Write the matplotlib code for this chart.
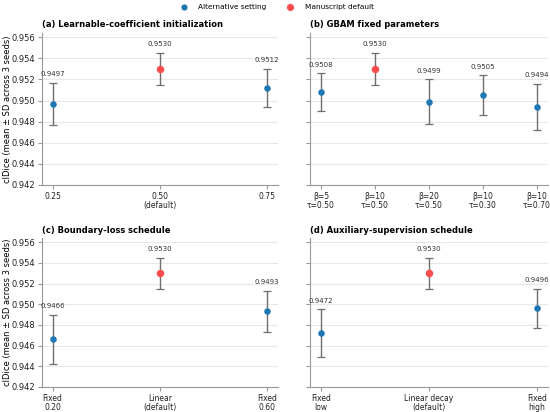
import numpy as np
import matplotlib
matplotlib.use("Agg")
import matplotlib.pyplot as plt
from matplotlib.lines import Line2D

# Panel data: labels, mean clDice, SD across 3 seeds, which one is the manuscript default
a_labels = ["0.25", "0.50\n(default)", "0.75"]
a_mean = [0.9497, 0.9530, 0.9512]
a_sd = [0.0020, 0.0015, 0.0018]
a_default = [False, True, False]

b_labels = ["β=5\nτ=0.50", "β=10\nτ=0.50", "β=20\nτ=0.50", "β=10\nτ=0.30", "β=10\nτ=0.70"]
b_mean = [0.9508, 0.9530, 0.9499, 0.9505, 0.9494]
b_sd = [0.0018, 0.0015, 0.0021, 0.0019, 0.0022]
b_default = [False, True, False, False, False]

c_labels = ["Fixed\n0.20", "Linear\n(default)", "Fixed\n0.60"]
c_mean = [0.9466, 0.9530, 0.9493]
c_sd = [0.0024, 0.0015, 0.0020]
c_default = [False, True, False]

d_labels = ["Fixed\nlow", "Linear decay\n(default)", "Fixed\nhigh"]
d_mean = [0.9472, 0.9530, 0.9496]
d_sd = [0.0023, 0.0015, 0.0019]
d_default = [False, True, False]

titles = ["(a) Learnable-coefficient initialization", "(b) GBAM fixed parameters",
          "(c) Boundary-loss schedule", "(d) Auxiliary-supervision schedule"]

BLUE = "#1f77b4"
RED = "#ff4d4d"
ylabel = "clDice (mean ± SD across 3 seeds)"
yticks = np.arange(0.942, 0.9561, 0.002)

fig = plt.figure(figsize=(5.5, 4.12), dpi=100)
ax_a = fig.add_axes([0.076, 0.551, 0.429, 0.369])
ax_b = fig.add_axes([0.564, 0.551, 0.432, 0.369])
ax_c = fig.add_axes([0.076, 0.061, 0.429, 0.361])
ax_d = fig.add_axes([0.564, 0.061, 0.432, 0.361])

panels = [
    (ax_a, a_labels, a_mean, a_sd, a_default),
    (ax_b, b_labels, b_mean, b_sd, b_default),
    (ax_c, c_labels, c_mean, c_sd, c_default),
    (ax_d, d_labels, d_mean, d_sd, d_default),
]

for i, (ax, labels, mean, sd, dflt) in enumerate(panels):
    x = np.arange(len(labels))
    for xi, m, s, is_def in zip(x, mean, sd, dflt):
        ax.errorbar(xi, m, yerr=s, fmt="none", ecolor="#6e6e6e", elinewidth=1.0,
                    capsize=3, capthick=0.9, zorder=2)
        ax.plot(xi, m, "o", color=RED if is_def else BLUE, markersize=5.4 if is_def else 4.7,
                markeredgewidth=0, zorder=3)
        ax.annotate(f"{m:.4f}", (xi, m + s), xytext=(0, 4), textcoords="offset points",
                    ha="center", va="bottom", fontsize=5, color="#333333")
    ax.set_xticks(x)
    ax.set_xticklabels(labels, fontsize=5.5, linespacing=1.0)
    ax.margins(x=0.05)
    ax.set_ylim(0.942, 0.9564)
    ax.set_yticks(yticks)
    ax.yaxis.grid(True, color="#e8e8e8", linewidth=0.8)
    ax.set_axisbelow(True)
    for sp in ["top", "right"]:
        ax.spines[sp].set_visible(False)
    for sp in ["left", "bottom"]:
        ax.spines[sp].set_color("#999999")
    ax.tick_params(axis="both", colors="#999999", labelcolor="#222222", length=3, pad=2)
    ax.tick_params(axis="y", labelsize=6)
    ax.set_title(titles[i], fontsize=6, fontweight="bold", loc="left", pad=4)
    if i % 2 == 0:
        ax.set_yticklabels([f"{v:.3f}" for v in yticks])
        ax.set_ylabel(ylabel, fontsize=6)
        ax.yaxis.set_label_coords(-0.125, 0.5)
    else:
        ax.set_yticklabels([])

handles = [
    Line2D([], [], marker="o", linestyle="none", color=BLUE, markersize=4.5,
           markeredgewidth=0, label="Alternative setting"),
    Line2D([], [], marker="o", linestyle="none", color=RED, markersize=5.2,
           markeredgewidth=0, label="Manuscript default"),
]
fig.legend(handles=handles, loc="upper center", bbox_to_anchor=(0.5, 1.006), ncol=2,
           frameon=False, fontsize=5.3, columnspacing=2.2, handletextpad=1.0)

fig.savefig("out.png", dpi=100)
